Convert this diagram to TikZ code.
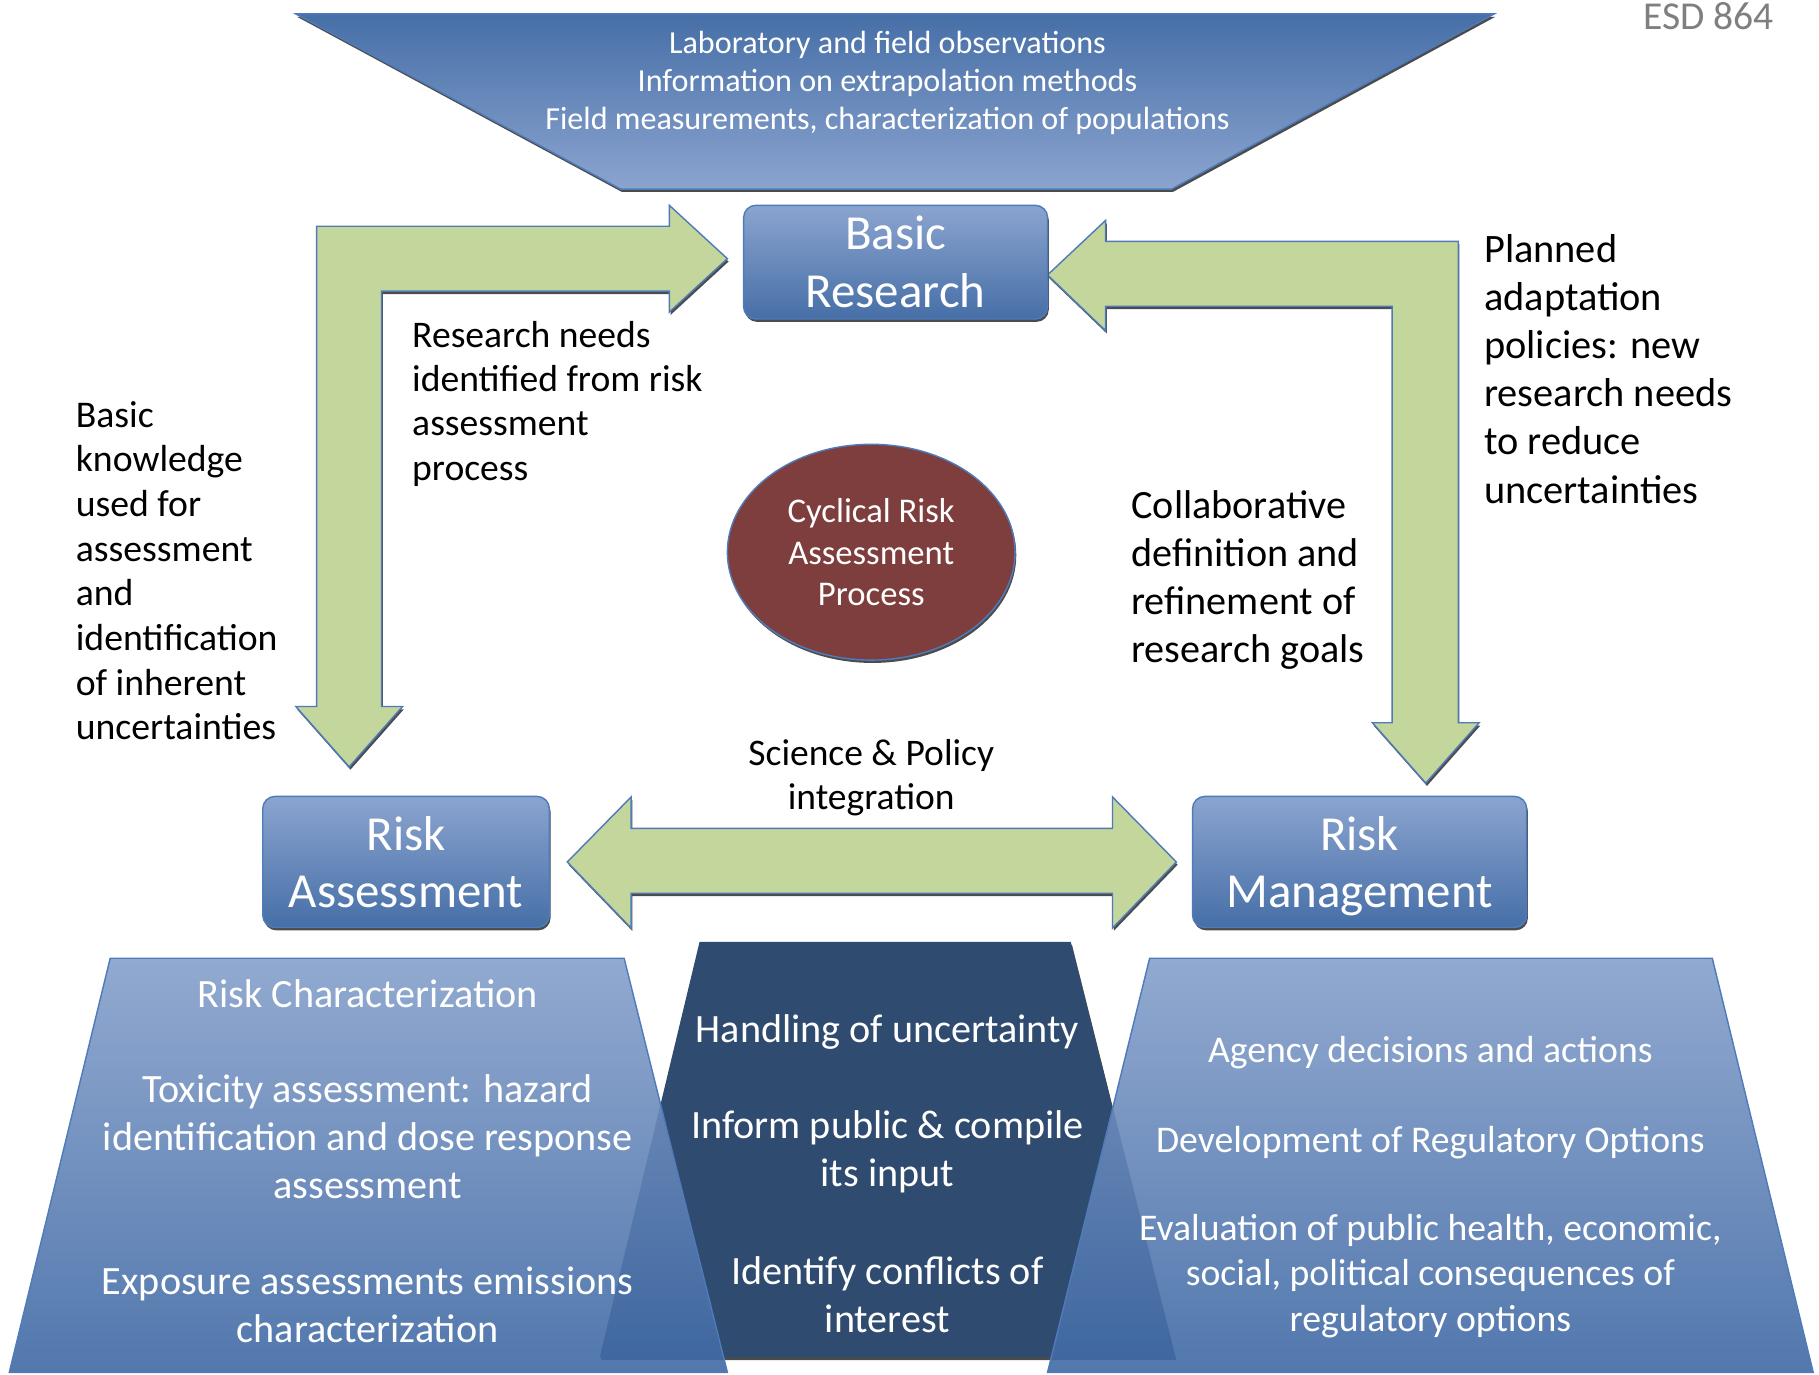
\documentclass[tikz,border=0pt]{standalone}
\usepackage{fontspec}
\setmainfont{Carlito}
\usepackage{tikz}
\usetikzlibrary{shapes.geometric,shadows}
\definecolor{arrowgreen}{HTML}{C3D69B}
\definecolor{edgeblue}{HTML}{4F7BBA}
\definecolor{boxlight}{HTML}{8BA4CF}
\definecolor{boxdark}{HTML}{466FA7}
\definecolor{platelight}{HTML}{86A0CB}
\definecolor{platedark}{HTML}{3F69A4}
\definecolor{navy}{HTML}{2F4B6F}
\definecolor{maroon}{HTML}{7E3E3D}
\definecolor{esdgray}{HTML}{7F7F7F}
\newcommand{\fsz}[2]{\fontsize{#1}{#2}\selectfont}

\begin{document}
\begin{tikzpicture}[x=0.2mm, y=-0.2mm,
    darkshadow/.style={drop shadow={shadow xshift=0.6pt, shadow yshift=-1.4pt, fill=black!70, opacity=1}},
    fatarrow/.style={fill=arrowgreen, draw=edgeblue, line width=0.7pt, darkshadow},
    bluebox/.style={draw=edgeblue, line width=0.7pt, rounded corners=6pt, top color=boxlight, bottom color=boxdark, text=white, align=center, inner sep=0pt, darkshadow},
    plate/.style={draw=edgeblue, line width=0.7pt, top color=platelight, bottom color=platedark, fill opacity=0.9},
    light/.style={text=white, align=center, inner sep=0pt},
    note/.style={align=left, anchor=west, inner sep=0pt}]
  \useasboundingbox (0,0) rectangle (1568,1185);
  \path[draw=edgeblue, line width=0.7pt, top color=boxdark, bottom color=boxlight, darkshadow] (255,12) -- (1288,12) -- (1010,163) -- (535,163) -- cycle;
  \node[light, font=\fsz{15.75}{18.8}] (sources) at (765,71.5) {Laboratory and field observations\\Information on extrapolation methods\\Field measurements, characterization of populations};
  \node[text=esdgray, inner sep=0pt, font=\fsz{19.4}{21}] (esd) at (1473,14) {ESD 864};

  \path[fatarrow] (627,223) -- (577,177) -- (577,195) -- (273,195) -- (273,609) -- (255,609) -- (301,661) -- (347,609) -- (329,609) -- (329,251) -- (577,251) -- (577,269) -- cycle;
  \path[fatarrow] (903,237) -- (953,190) -- (953,208) -- (1257,208) -- (1257,623) -- (1275,623) -- (1229,675) -- (1183,623) -- (1200,623) -- (1200,264) -- (953,264) -- (953,285) -- cycle;
  \path[fatarrow] (489,743) -- (544,687) -- (544,714) -- (959,714) -- (959,687) -- (1014,743) -- (959,800) -- (959,770) -- (544,770) -- (544,800) -- cycle;

  \node[bluebox, minimum width=52.4mm, minimum height=19.6mm, font=\fsz{24}{28.5}] (research) at (772,226) {Basic\\Research};
  \node[bluebox, minimum width=49.4mm, minimum height=22.6mm, font=\fsz{24}{28}] (assessment) at (350,743) {Risk\\Assessment};
  \node[bluebox, minimum width=57.6mm, minimum height=22.6mm, font=\fsz{24}{28}] (management) at (1172,743) {Risk\\\smash{Management}};
  \node[ellipse, draw=edgeblue, line width=0.7pt, fill=maroon, minimum width=49.6mm, minimum height=37.2mm, light, font=\fsz{17}{20.5}, darkshadow] (cyclical) at (751,476) {Cyclical Risk\\Assessment\\Process};

  \node[note, font=\fsz{18.45}{21.8}] (needs) at (355,348) {Research needs\\identified from risk\\assessment\\process};
  \node[note, font=\fsz{18.5}{21.9}] (knowledge) at (65,492) {Basic\\knowledge\\used for\\assessment\\and\\identification\\of inherent\\uncertainties};
  \node[note, font=\fsz{19.8}{23.6}] (planned) at (1279,318) {Planned\\adaptation\\policies: new\\research needs\\to reduce\\uncertainties};
  \node[note, font=\fsz{19.7}{23.5}] (goals) at (975,500) {Collaborative\\definition and\\refinement of\\research goals};
  \node[align=center, inner sep=0pt, font=\fsz{18.4}{21.6}] (integration) at (751,670) {Science \& Policy\\integration};

  \path[fill=navy, darkshadow] (603,812) -- (923,812) -- (1013,1170) -- (517,1170) -- cycle;
  \path[plate] (95,826) -- (538,826) -- (627,1183) -- (8,1183) -- cycle;
  \path[plate] (991,826) -- (1476,826) -- (1563,1183) -- (903,1183) -- cycle;

  \node[light, font=\fsz{19.7}{23.6}] (riskchar) at (317,857) {Risk Characterization};
  \node[light, font=\fsz{19.7}{23.6}] (toxicity) at (317,980) {Toxicity assessment: hazard\\identification and dose response\\assessment};
  \node[light, font=\fsz{19.7}{23.6}] (exposure) at (317,1125) {Exposure assessments emissions\\characterization};
  \node[light, font=\fsz{19.7}{23.3}] (handling) at (765,890) {Handling of uncertainty};
  \node[light, font=\fsz{19.7}{23.3}] (inform) at (765,993) {Inform public \& compile\\its input};
  \node[light, font=\fsz{19.7}{23.3}] (conflicts) at (765,1116) {Identify conflicts of\\interest};
  \node[light, font=\fsz{18.5}{22.2}] (agency) at (1233,907) {Agency decisions and actions};
  \node[light, font=\fsz{18.5}{22.2}] (options) at (1233,985) {Development of Regulatory Options};
  \node[light, font=\fsz{18.5}{22.2}] (evaluation) at (1233,1100) {Evaluation of public health, economic,\\social, political consequences of\\regulatory options};
\end{tikzpicture}
\end{document}
